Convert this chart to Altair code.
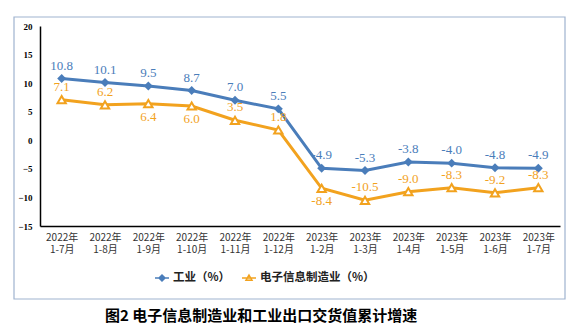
import altair as alt
import pandas as pd

months = ["2022年\n1-7月", "2022年\n1-8月", "2022年\n1-9月", "2022年\n1-10月",
          "2022年\n1-11月", "2022年\n1-12月", "2023年\n1-2月", "2023年\n1-3月",
          "2023年\n1-4月", "2023年\n1-5月", "2023年\n1-6月", "2023年\n1-7月"]
industry = [10.8, 10.1, 9.5, 8.7, 7.0, 5.5, -4.9, -5.3, -3.8, -4.0, -4.8, -4.9]
electronic = [7.1, 6.2, 6.4, 6.0, 3.5, 1.8, -8.4, -10.5, -9.0, -8.3, -9.2, -8.3]
electronic_label_below = [False, False, True, True, False, False,
                          True, False, False, False, False, False]
series_names = ["工业（%）", "电子信息制造业（%）"]
y_ticks = [-15, -10, -5, 0, 5, 10, 15, 20]
title_text = "图2 电子信息制造业和工业出口交货值累计增速"

BLUE = "#4A7DBA"
ORANGE = "#F2A21E"

rows = []
for m, v in zip(months, industry):
    rows.append({"month": m, "series": series_names[0], "value": v,
                 "label": f"{v:.1f}", "below": False})
for m, v, b in zip(months, electronic, electronic_label_below):
    rows.append({"month": m, "series": series_names[1], "value": v,
                 "label": f"{v:.1f}", "below": b})
df = pd.DataFrame(rows)

x_enc = alt.X("month:O", sort=months, title=None,
              scale=alt.Scale(type="point", padding=0.5),
              axis=alt.Axis(labelAngle=0, ticks=False, domainColor="#000000", domainWidth=1.5,
                            labelExpr="split(datum.label, '\\n')", labelFont="Noto Sans CJK SC",
                            labelFontSize=10, labelColor="#333333", labelPadding=6,
                            labelLineHeight=12))
y_enc = alt.Y("value:Q", title=None,
              scale=alt.Scale(domain=[-15, 20], nice=False),
              axis=alt.Axis(values=y_ticks, grid=False, ticks=False, domainColor="#000000",
                            domainWidth=1.5, labelFont="Liberation Serif", labelFontWeight="bold",
                            labelFontSize=9, labelColor="#000000", labelPadding=8))

base = alt.Chart(df)
ind = base.transform_filter(alt.datum.series == series_names[0])
ele = base.transform_filter(alt.datum.series == series_names[1])

frame = alt.Chart(pd.DataFrame({"a": [0]})).mark_rect(
    fill=None, stroke="#9FB3CF", strokeWidth=1.2
).encode(x=alt.value(-26), x2=alt.value(525), y=alt.value(-9), y2=alt.value(273))

title_mark = alt.Chart(pd.DataFrame({"t": [title_text]})).mark_text(
    font="Noto Sans CJK SC", fontSize=15, fontWeight="bold", color="#000000",
    align="center", baseline="middle"
).encode(x=alt.value(221), y=alt.value(290), text="t:N")

line_ind = ind.mark_line(strokeWidth=3, color=BLUE).encode(x=x_enc, y=y_enc)
line_ele = ele.mark_line(strokeWidth=3, color=ORANGE).encode(x=x_enc, y=y_enc)

diamonds = ind.mark_point(
    shape="diamond", filled=True, size=80, color=BLUE, opacity=1
).encode(x=x_enc, y=y_enc)

triangles = ele.mark_point(
    shape="triangle-up", filled=True, fill="#FFFFFF", stroke=ORANGE, strokeWidth=2,
    size=70, opacity=1
).encode(x=x_enc, y=y_enc)

text_style = dict(font="Liberation Serif", fontSize=13)
blue_text = ind.mark_text(dy=-13, color=BLUE, **text_style).encode(
    x=x_enc, y=y_enc, text="label:N")

orange_above = ele.transform_filter(alt.datum.below == False).mark_text(
    dy=-13, color=ORANGE, **text_style).encode(x=x_enc, y=y_enc, text="label:N")

orange_below = ele.transform_filter(alt.datum.below == True).mark_text(
    dy=13, color=ORANGE, **text_style).encode(x=x_enc, y=y_enc, text="label:N")

# legend-only layer: no rows pass the filter, entries come from the explicit scale domain
legend_shapes = [
    "M-1.4,0H1.4M0,-0.6L0.6,0L0,0.6L-0.6,0Z",
    "M-1.4,0H1.4M0,-0.6L0.6,0.45L-0.6,0.45Z",
]
legend_def = alt.Legend(title=None, orient="none", legendX=116, legendY=246,
                        direction="horizontal")
legend_layer = base.transform_filter(alt.datum.value > 999).mark_point(
    filled=True, strokeWidth=1.5
).encode(
    x=x_enc, y=y_enc,
    shape=alt.Shape("series:N", scale=alt.Scale(domain=series_names, range=legend_shapes),
                    legend=legend_def),
    fill=alt.Fill("series:N", scale=alt.Scale(domain=series_names, range=[BLUE, "#FFF3D6"]),
                  legend=legend_def),
    stroke=alt.Stroke("series:N", scale=alt.Scale(domain=series_names, range=[BLUE, ORANGE]),
                      legend=legend_def),
)

chart = alt.layer(
    frame, line_ind, line_ele, diamonds, triangles, blue_text, orange_above, orange_below,
    legend_layer, title_mark
).properties(
    width=520, height=200,
    autosize=alt.AutoSizeParams(type="none"),
    padding={"left": 40, "top": 26, "right": 22, "bottom": 106},
    background="#FFFFFF",
).configure_view(stroke=None).configure_legend(
    labelFont="Noto Sans CJK SC", labelFontSize=11.5, labelFontWeight="bold",
    labelColor="#222222", symbolSize=100, symbolStrokeWidth=1.5, symbolOpacity=1,
    columnPadding=8, labelOffset=5, padding=0, gridAlign="none",
)

chart.save("out.html", embed_options={"renderer": "svg", "actions": False})
